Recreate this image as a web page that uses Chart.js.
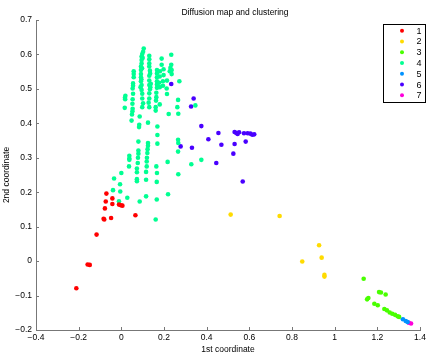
<!DOCTYPE html>
<html>
<head>
<meta charset="utf-8">
<script src="https://cdn.jsdelivr.net/npm/chart.js@4"></script>
<style>
  html, body { margin: 0; padding: 0; background: #fff; }
  #wrap { width: 436px; height: 356px; }
</style>
</head>
<body>
<div id="wrap"><canvas id="myChart" width="436" height="356"></canvas></div>
<script>
// cluster labels and colours (hsv(7) like the original)
const clusterNames = ['1', '2', '3', '4', '5', '6', '7']
const clusterColors = [
  'rgb(255, 0, 0)',
  'rgb(255, 219, 0)',
  'rgb(73, 255, 0)',
  'rgb(0, 255, 146)',
  'rgb(0, 146, 255)',
  'rgb(73, 0, 255)',
  'rgb(255, 0, 219)',
]

// [1st coordinate, 2nd coordinate] per cluster
const cluster1 = [
  [-0.070, 0.196], [-0.073, 0.173], [-0.077, 0.153], [-0.042, 0.182], [-0.042, 0.166],
  [-0.011, 0.164], [-0.002, 0.162], [0.005, 0.161], [-0.080, 0.121], [-0.083, 0.123],
  [-0.048, 0.125], [0.066, 0.133], [-0.116, 0.077], [-0.158, -0.010], [-0.148, -0.011],
  [-0.211, -0.079],
]
const cluster2 = [
  [0.5125, 0.135], [0.742, 0.131], [0.927, 0.046], [0.939, 0.010], [0.848, -0.001],
  [0.952, -0.040], [0.952, -0.045],
]
const cluster3 = [
  [1.136, -0.051], [1.208, -0.090], [1.217, -0.091], [1.239, -0.097], [1.152, -0.111],
  [1.158, -0.107], [1.186, -0.124], [1.202, -0.128], [1.233, -0.139], [1.245, -0.143],
  [1.258, -0.149], [1.270, -0.153], [1.283, -0.156], [1.295, -0.160], [1.302, -0.162],
]
const cluster4 = [
  // upper block
  [0.105, 0.617], [0.102, 0.608], [0.098, 0.601], [0.095, 0.594], [0.095, 0.584],
  [0.095, 0.574], [0.092, 0.565], [0.092, 0.555], [0.092, 0.543], [0.092, 0.534],
  [0.092, 0.522], [0.095, 0.511], [0.095, 0.497], [0.098, 0.486], [0.098, 0.472],
  [0.102, 0.458], [0.098, 0.447], [0.100, 0.590], [0.097, 0.560], [0.094, 0.528],
  [0.090, 0.505],
  [0.131, 0.596], [0.131, 0.586], [0.131, 0.574], [0.131, 0.565], [0.134, 0.553],
  [0.131, 0.538], [0.131, 0.524], [0.131, 0.511], [0.134, 0.499], [0.131, 0.487],
  [0.131, 0.472], [0.128, 0.460], [0.131, 0.447], [0.136, 0.505], [0.138, 0.515],
  [0.135, 0.545],
  [0.058, 0.551], [0.058, 0.543], [0.058, 0.534], [0.055, 0.516], [0.055, 0.509],
  [0.053, 0.501], [0.055, 0.486], [0.053, 0.470], [0.052, 0.457], [0.053, 0.442],
  [0.050, 0.426],
  [0.019, 0.480], [0.017, 0.474], [0.016, 0.445], [0.018, 0.470],
  [0.052, 0.435], [0.048, 0.408], [0.086, 0.420], [0.084, 0.396], [0.083, 0.389],
  [0.125, 0.402],
  [0.167, 0.555], [0.167, 0.545], [0.167, 0.534], [0.167, 0.522], [0.167, 0.513],
  [0.167, 0.503], [0.164, 0.489], [0.164, 0.476], [0.1625, 0.466], [0.161, 0.447],
  [0.161, 0.437],
  [0.181, 0.551], [0.180, 0.536], [0.177, 0.518], [0.180, 0.505], [0.180, 0.455],
  [0.189, 0.588], [0.189, 0.570],
  [0.198, 0.557], [0.198, 0.540], [0.195, 0.522], [0.195, 0.509],
  [0.214, 0.524], [0.2125, 0.501], [0.214, 0.485],
  [0.230, 0.561], [0.227, 0.551],
  [0.234, 0.599], [0.234, 0.570], [0.236, 0.555], [0.236, 0.543],
  [0.272, 0.522], [0.266, 0.468], [0.2625, 0.447], [0.267, 0.428],
  [0.169, 0.391], [0.169, 0.366], [0.169, 0.341], [0.222, 0.427], [0.347, 0.452],
  // lower block
  [0.125, 0.343], [0.125, 0.335], [0.123, 0.325], [0.122, 0.314], [0.120, 0.300],
  [0.119, 0.289], [0.119, 0.275], [0.116, 0.259], [0.116, 0.236],
  [0.080, 0.347], [0.080, 0.321], [0.080, 0.312], [0.078, 0.300], [0.077, 0.285],
  [0.073, 0.269], [0.073, 0.258], [0.073, 0.238], [0.073, 0.232],
  [0.0375, 0.306], [0.0375, 0.298], [0.0375, 0.294], [0.036, 0.275],
  [0.164, 0.275], [0.167, 0.256], [0.166, 0.230], [0.166, 0.179],
  [0.217, 0.288], [0.266, 0.352], [0.267, 0.343], [0.266, 0.318],
  [0.328, 0.281], [0.375, 0.294], [0.267, 0.252],
  [0.000, 0.256], [-0.006, 0.223], [-0.005, 0.202], [-0.011, 0.174],
  [-0.034, 0.240], [-0.039, 0.206],
  [0.028, 0.184], [0.086, 0.173], [0.116, 0.188], [0.161, 0.121], [0.219, 0.194],
]
const cluster5 = [[1.320, -0.169], [1.333, -0.174], [1.342, -0.177]]
const cluster6 = [
  [0.234, 0.514], [0.339, 0.472], [0.327, 0.449], [0.375, 0.392], [0.408, 0.354],
  [0.455, 0.372], [0.469, 0.338], [0.278, 0.333], [0.331, 0.329], [0.445, 0.285],
  [0.531, 0.375], [0.539, 0.372], [0.545, 0.369], [0.552, 0.374], [0.575, 0.371],
  [0.592, 0.371], [0.605, 0.370], [0.614, 0.367], [0.623, 0.368], [0.531, 0.340],
  [0.583, 0.347], [0.525, 0.312], [0.569, 0.231],
]
const cluster7 = [[1.348, -0.179], [1.358, -0.181]]

const clusters = [cluster1, cluster2, cluster3, cluster4, cluster5, cluster6, cluster7]

// axis ranges and tick steps
const xRange = [-0.4, 1.4]
const yRange = [-0.2, 0.7]
const xStep = 0.2
const yStep = 0.1

const fontFamily = '"Liberation Sans", Arial, Helvetica, sans-serif'
const axisColor = '#777'

const minusSign = (v) => String(+v.toFixed(2)).replace('-', '\u2212')

// MATLAB-style inward ticks
const inwardTicks = {
  id: 'inwardTicks',
  afterDraw(chart) {
    const { ctx, chartArea, scales } = chart
    ctx.save()
    ctx.strokeStyle = axisColor
    ctx.lineWidth = 1
    scales.x.ticks.forEach((t) => {
      const px = Math.round(scales.x.getPixelForValue(t.value)) + 0.5
      ctx.beginPath()
      ctx.moveTo(px, chartArea.bottom)
      ctx.lineTo(px, chartArea.bottom - 3)
      ctx.stroke()
    })
    scales.y.ticks.forEach((t) => {
      const py = Math.round(scales.y.getPixelForValue(t.value)) + 0.5
      ctx.beginPath()
      ctx.moveTo(chartArea.left, py)
      ctx.lineTo(chartArea.left + 3, py)
      ctx.stroke()
    })
    ctx.restore()
  },
}

// boxed legend in the top right corner
const boxLegend = {
  id: 'boxLegend',
  afterDraw(chart) {
    const { ctx } = chart
    const left = 383.5, top = 24.5, w = 42, h = 78
    ctx.save()
    ctx.fillStyle = '#fff'
    ctx.fillRect(left, top, w, h)
    ctx.strokeStyle = '#000'
    ctx.lineWidth = 1
    ctx.strokeRect(left, top, w, h)
    ctx.font = '9px ' + fontFamily
    ctx.textAlign = 'center'
    ctx.textBaseline = 'middle'
    chart.data.datasets.forEach((ds, i) => {
      const y = 30.7 + i * 10.77
      ctx.fillStyle = ds.backgroundColor
      ctx.beginPath()
      ctx.arc(402, y, 2, 0, Math.PI * 2)
      ctx.fill()
      ctx.fillStyle = '#000'
      ctx.fillText(ds.label, 419, y + 0.5)
    })
    ctx.restore()
  },
}

// title sits a little right of the plot centre, as in the original
const plotTitle = {
  id: 'plotTitle',
  afterDraw(chart) {
    const { ctx } = chart
    ctx.save()
    ctx.font = '8.5px ' + fontFamily
    ctx.fillStyle = '#000'
    ctx.textAlign = 'center'
    ctx.textBaseline = 'alphabetic'
    ctx.fillText('Diffusion map and clustering', 235, 14.5)
    ctx.restore()
  },
}

new Chart(document.getElementById('myChart'), {
  type: 'scatter',
  data: {
    datasets: clusters.map((pts, i) => ({
      label: clusterNames[i],
      data: pts.map(([x, y]) => ({ x, y })),
      backgroundColor: clusterColors[i],
      borderWidth: 0,
      pointRadius: 2.3,
      pointHoverRadius: 2.3,
    })),
  },
  options: {
    responsive: false,
    animation: false,
    layout: { padding: { left: 0, right: 16, top: 20, bottom: 0 } },
    plugins: {
      legend: { display: false },
      tooltip: { enabled: false },
      title: { display: false },
    },
    scales: {
      x: {
        type: 'linear',
        min: xRange[0],
        max: xRange[1],
        afterFit: (s) => { s.height = 26 },
        grid: { display: false, drawTicks: false },
        border: { display: true, color: axisColor, width: 1 },
        ticks: {
          stepSize: xStep,
          padding: 3,
          color: '#000',
          font: { family: fontFamily, size: 8.5 },
          maxRotation: 0,
          callback: minusSign,
        },
        title: {
          display: true,
          text: '1st coordinate',
          color: '#000',
          font: { family: fontFamily, size: 8.5 },
          padding: { top: 0, bottom: 1 },
        },
      },
      y: {
        type: 'linear',
        min: yRange[0],
        max: yRange[1],
        afterFit: (s) => { s.width = 36 },
        grid: { display: false, drawTicks: false },
        border: { display: true, color: axisColor, width: 1 },
        ticks: {
          stepSize: yStep,
          padding: 4,
          color: '#000',
          font: { family: fontFamily, size: 8.5 },
          callback: minusSign,
        },
        title: {
          display: true,
          text: '2nd coordinate',
          color: '#000',
          font: { family: fontFamily, size: 8.5 },
          padding: { top: 2, bottom: 0 },
        },
      },
    },
  },
  plugins: [inwardTicks, boxLegend, plotTitle],
})
</script>
</body>
</html>
